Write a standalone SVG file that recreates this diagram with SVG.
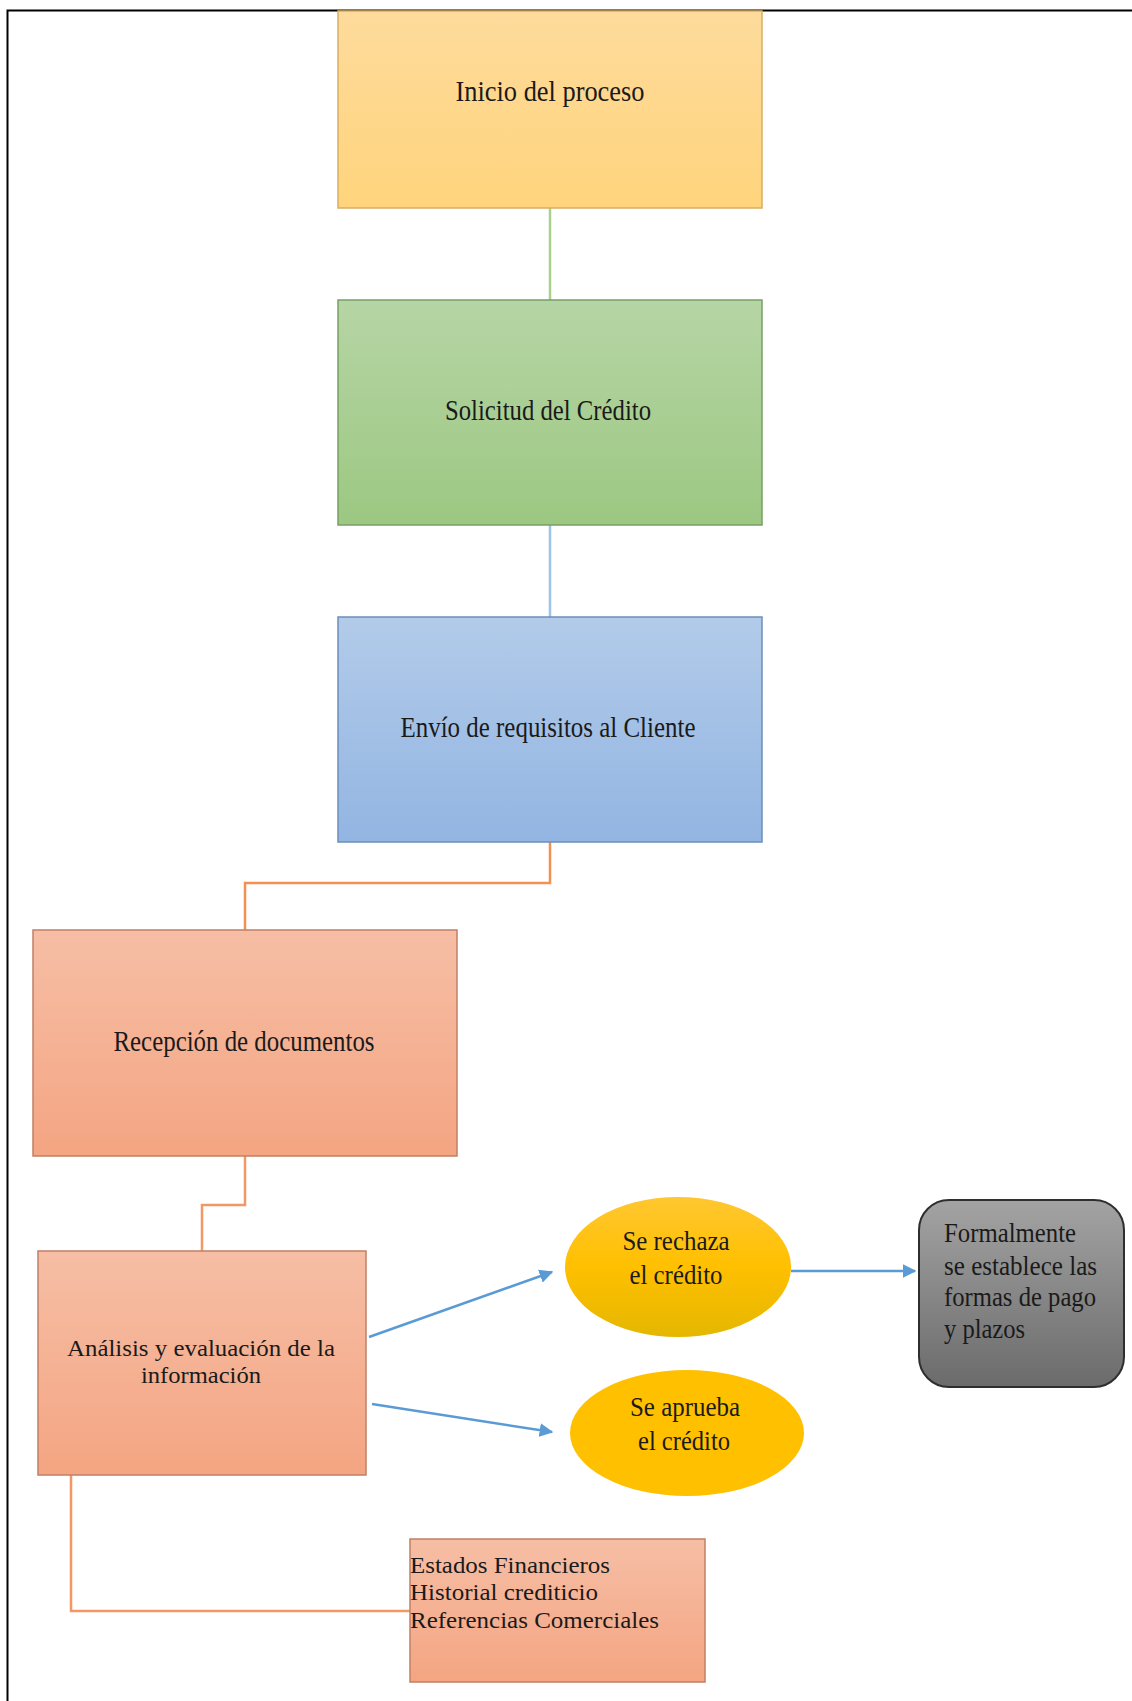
<svg xmlns="http://www.w3.org/2000/svg" width="1132" height="1701" viewBox="0 0 1132 1701">
<defs>
<linearGradient id="gOrange" x1="0" y1="0" x2="0" y2="1"><stop offset="0" stop-color="#FEDB9C"/><stop offset="1" stop-color="#FFD47C"/></linearGradient>
<linearGradient id="gGreen" x1="0" y1="0" x2="0" y2="1"><stop offset="0" stop-color="#B6D5A5"/><stop offset="1" stop-color="#9CC882"/></linearGradient>
<linearGradient id="gBlue" x1="0" y1="0" x2="0" y2="1"><stop offset="0" stop-color="#B2CBE9"/><stop offset="1" stop-color="#93B5E2"/></linearGradient>
<linearGradient id="gSalmon" x1="0" y1="0" x2="0" y2="1"><stop offset="0" stop-color="#F6BEA5"/><stop offset="1" stop-color="#F4A582"/></linearGradient>
<linearGradient id="gGold" x1="0" y1="0" x2="0" y2="1"><stop offset="0" stop-color="#FFC731"/><stop offset="0.5" stop-color="#FFC000"/><stop offset="1" stop-color="#E4B700"/></linearGradient>
<linearGradient id="gGray" x1="0" y1="0" x2="0" y2="1"><stop offset="0" stop-color="#A3A3A3"/><stop offset="1" stop-color="#6B6B6B"/></linearGradient>
<marker id="arr" viewBox="0 0 10 10" refX="9" refY="5" markerWidth="5.5" markerHeight="5.5" orient="auto" markerUnits="strokeWidth"><path d="M0,0 L10,5 L0,10 z" fill="#5B9BD5"/></marker>
<style>
text{font-family:"Liberation Serif","Times New Roman",serif;fill:#1a1a1a}
.c{text-anchor:middle}
.big{font-size:29px}
.ana{font-size:23px}
.mid{font-size:28px}
.gry{font-size:27px}
.sm{font-size:24px}
.conn{fill:none;stroke-width:2.5}
.arrow{fill:none;stroke:#5B9BD5;stroke-width:2.5;marker-end:url(#arr)}
</style>
</defs>
<rect x="0" y="0" width="1132" height="1701" fill="#FFFFFF"/>
<path d="M7.5 1701 V10.5 H1132" fill="none" stroke="#000" stroke-width="2"/>

<g id="connectors">
<path class="conn" d="M550 208 V300" stroke="#A9D18E"/>
<path class="conn" d="M550 525 V617" stroke="#9DC3E6"/>
<path class="conn" d="M550 842 V883 H245 V930" stroke="#F59150"/>
<path class="conn" d="M245 1156 V1205 H202 V1251" stroke="#F29864"/>
<path class="conn" d="M71 1475 V1611 H410" stroke="#F29864"/>
<path class="arrow" d="M369 1337 L552 1272"/>
<path class="arrow" d="M372 1404 L552 1432"/>
<path class="arrow" d="M791 1271 L915 1271"/>
</g>

<g id="inicio">
<rect x="338" y="11" width="424" height="197" fill="url(#gOrange)" stroke="#D8AE62" stroke-width="1.5"/>
<text class="c big" x="550" y="101" textLength="189" lengthAdjust="spacingAndGlyphs">Inicio del proceso</text>
</g>
<g id="solicitud">
<rect x="338" y="300" width="424" height="225" fill="url(#gGreen)" stroke="#77A064" stroke-width="1.5"/>
<text class="c big" x="548" y="420" textLength="206" lengthAdjust="spacingAndGlyphs">Solicitud del Crédito</text>
</g>
<g id="envio">
<rect x="338" y="617" width="424" height="225" fill="url(#gBlue)" stroke="#6E8EBA" stroke-width="1.5"/>
<text class="c big" x="548" y="737" textLength="295" lengthAdjust="spacingAndGlyphs">Envío de requisitos al Cliente</text>
</g>
<g id="recepcion">
<rect x="33" y="930" width="424" height="226" fill="url(#gSalmon)" stroke="#C08066" stroke-width="1.5"/>
<text class="c big" x="244" y="1051" textLength="261" lengthAdjust="spacingAndGlyphs">Recepción de documentos</text>
</g>
<g id="analisis">
<rect x="38" y="1251" width="328" height="224" fill="url(#gSalmon)" stroke="#C08066" stroke-width="1.5"/>
<text class="c ana" x="201" y="1356" textLength="268" lengthAdjust="spacingAndGlyphs">Análisis y evaluación de la</text>
<text class="c ana" x="201" y="1383" textLength="120" lengthAdjust="spacingAndGlyphs">información</text>
</g>
<g id="rechaza">
<ellipse cx="678" cy="1267" rx="113" ry="70" fill="url(#gGold)"/>
<text class="c mid" x="676" y="1250" textLength="107" lengthAdjust="spacingAndGlyphs">Se rechaza</text>
<text class="c mid" x="676" y="1284" textLength="93" lengthAdjust="spacingAndGlyphs">el crédito</text>
</g>
<g id="aprueba">
<ellipse cx="687" cy="1433" rx="117" ry="63" fill="#FFC000"/>
<text class="c mid" x="685" y="1416" textLength="110" lengthAdjust="spacingAndGlyphs">Se aprueba</text>
<text class="c mid" x="684" y="1450" textLength="92" lengthAdjust="spacingAndGlyphs">el crédito</text>
</g>
<g id="formalmente">
<rect x="919" y="1200" width="205" height="187" rx="30" ry="30" fill="url(#gGray)" stroke="#2E2E2E" stroke-width="2"/>
<text class="gry" x="944" y="1242" textLength="132" lengthAdjust="spacingAndGlyphs">Formalmente</text>
<text class="gry" x="944" y="1275" textLength="153" lengthAdjust="spacingAndGlyphs">se establece las</text>
<text class="gry" x="944" y="1306" textLength="152" lengthAdjust="spacingAndGlyphs">formas de pago</text>
<text class="gry" x="944" y="1338" textLength="81" lengthAdjust="spacingAndGlyphs">y plazos</text>
</g>
<g id="estados">
<rect x="410" y="1539" width="295" height="143" fill="url(#gSalmon)" stroke="#C08066" stroke-width="1.5"/>
<text class="sm" x="410" y="1573" textLength="200" lengthAdjust="spacingAndGlyphs">Estados Financieros</text>
<text class="sm" x="410" y="1600" textLength="188" lengthAdjust="spacingAndGlyphs">Historial crediticio</text>
<text class="sm" x="410" y="1628" textLength="249" lengthAdjust="spacingAndGlyphs">Referencias Comerciales</text>
</g>
</svg>
